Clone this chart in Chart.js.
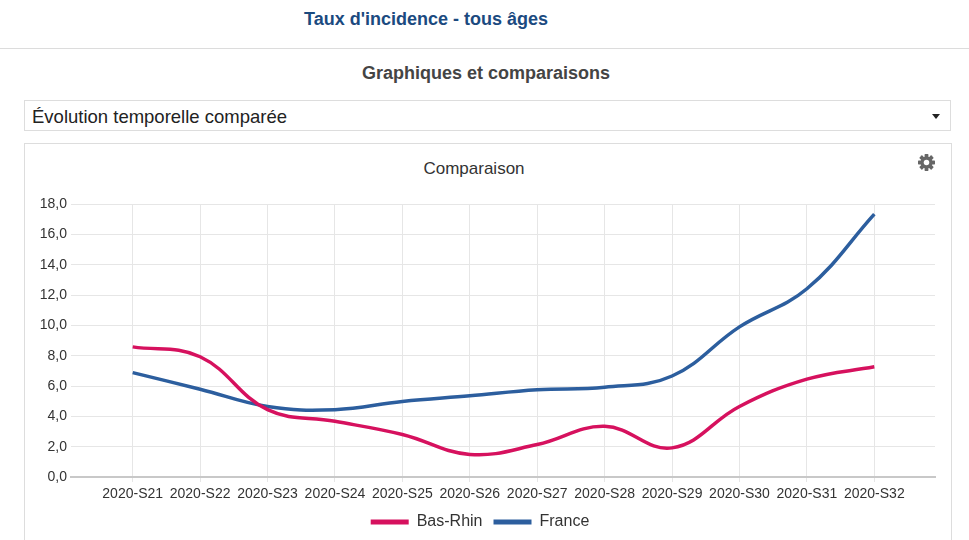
<!DOCTYPE html>
<html lang="fr">
<head>
<meta charset="utf-8">
<title>Taux d'incidence - tous âges</title>
<script src="https://cdn.jsdelivr.net/npm/chart.js@4/dist/chart.umd.min.js"></script>
<style>
  html, body { margin: 0; padding: 0; background: #fff; }
  body { width: 969px; height: 540px; overflow: hidden; position: relative; font-family: "Liberation Sans", Arial, sans-serif; color: #333; }
  .titre { position: absolute; left: 0; width: 852px; top: 9px; text-align: center; font-size: 18px; font-weight: bold; color: #1b4a7f; }
  .regle { position: absolute; left: 0; right: 0; top: 48px; height: 0; border-top: 1px solid #dcdcdc; }
  .sous-titre { position: absolute; left: 0; width: 972px; top: 63px; text-align: center; font-size: 18px; font-weight: bold; color: #444; }
  .choix { position: absolute; left: 24px; top: 100px; width: 925px; height: 29px; border: 1px solid #ddd; }
  .choix span { position: absolute; left: 7px; top: 5px; font-size: 18.5px; color: #222; }
  .fleche { position: absolute; right: 10px; top: 13px; width: 0; height: 0; border-left: 4px solid transparent; border-right: 4px solid transparent; border-top: 5px solid #222; }
  .boite { position: absolute; left: 24px; top: 143px; width: 926px; height: 420px; border: 1px solid #ddd; }
  .boite-titre { position: absolute; left: 0; width: 948px; top: 159px; text-align: center; font-size: 17px; color: #333; }
  .engrenage { position: absolute; left: 918px; top: 154px; }
  .zone { position: absolute; left: 25px; top: 185px; width: 925px; height: 355px; }
</style>
</head>
<body>
<div class="titre">Taux d'incidence - tous âges</div>
<div class="regle"></div>
<div class="sous-titre">Graphiques et comparaisons</div>
<div class="choix"><span>Évolution temporelle comparée</span><div class="fleche"></div></div>
<div class="boite"></div>
<div class="boite-titre">Comparaison</div>
<svg class="engrenage" width="17" height="17" viewBox="0 0 16 16">
  <g fill="#666" transform="translate(8 8)">
    <rect x="-1.8" y="-8" width="3.6" height="16" rx="0.6"/>
    <rect x="-1.8" y="-8" width="3.6" height="16" rx="0.6" transform="rotate(45)"/>
    <rect x="-1.8" y="-8" width="3.6" height="16" rx="0.6" transform="rotate(90)"/>
    <rect x="-1.8" y="-8" width="3.6" height="16" rx="0.6" transform="rotate(135)"/>
    <circle r="5.6"/>
    <circle r="2.6" fill="#fff"/>
  </g>
</svg>
<div class="zone"><canvas id="chart-comparaison"></canvas></div>

<script>
// Taux d'incidence hebdomadaire, tous âges
var semaines = ['2020-S21', '2020-S22', '2020-S23', '2020-S24', '2020-S25', '2020-S26',
                '2020-S27', '2020-S28', '2020-S29', '2020-S30', '2020-S31', '2020-S32'];
var basRhin = [8.58, 7.93, 4.44, 3.67, 2.80, 1.49, 2.14, 3.34, 1.92, 4.65, 6.45, 7.27];
var france = [6.88, 5.79, 4.65, 4.44, 4.98, 5.35, 5.75, 5.92, 6.66, 9.90, 12.41, 17.33];
var graduationsY = [0, 2, 4, 6, 8, 10, 12, 14, 16, 18];

var rouge = '#d6115e';
var bleu = '#2c5e9e';

function points(valeurs) {
  return valeurs.map(function (v, i) { return { x: i, y: v }; });
}

function fmtVirgule(v) {
  return Number(v).toFixed(1).replace('.', ',');
}

var police = { family: '"Liberation Sans", Arial, sans-serif', size: 14 };

new Chart(document.getElementById('chart-comparaison').getContext('2d'), {
  type: 'line',
  data: {
    datasets: [
      { label: 'Bas-Rhin', data: points(basRhin), borderColor: rouge, backgroundColor: rouge, borderWidth: 3.5, pointRadius: 0, tension: 0.4, fill: false },
      { label: 'France', data: points(france), borderColor: bleu, backgroundColor: bleu, borderWidth: 3.5, pointRadius: 0, tension: 0.4, fill: false },
    ],
  },
  options: {
    responsive: true,
    maintainAspectRatio: false,
    animation: false,
    layout: { padding: { top: 19, right: 15, left: 0, bottom: 0 } },
    plugins: {
      title: { display: false },
      tooltip: { enabled: false },
      legend: {
        position: 'bottom',
        labels: {
          color: '#333',
          font: { family: police.family, size: 16 },
          boxWidth: 38,
          boxHeight: 5,
          padding: 11,
          generateLabels: function (chart) {
            var items = Chart.defaults.plugins.legend.labels.generateLabels(chart);
            items.forEach(function (it) { it.lineWidth = 0; });
            return items;
          },
        },
      },
    },
    scales: {
      x: {
        type: 'linear',
        min: -0.915,
        max: 11.9,
        afterFit: function (s) { s.height = 26; },
        grid: { color: '#e6e6e6', tickLength: 5, tickColor: '#e6e6e6' },
        border: { display: true, color: '#c8c8c8', width: 2 },
        ticks: {
          stepSize: 1,
          includeBounds: false,
          autoSkip: false,
          maxRotation: 0,
          padding: 4,
          color: '#333',
          font: police,
          callback: function (v) { return Number.isInteger(v) ? semaines[v] : ''; },
        },
      },
      y: {
        min: graduationsY[0],
        max: graduationsY[graduationsY.length - 1],
        afterFit: function (s) { s.width = 46; },
        grid: { color: '#e6e6e6', drawTicks: false },
        border: { display: false },
        ticks: {
          stepSize: 2,
          padding: 4,
          color: '#333',
          font: police,
          callback: function (v) { return fmtVirgule(v); },
        },
      },
    },
  },
});
</script>
</body>
</html>
